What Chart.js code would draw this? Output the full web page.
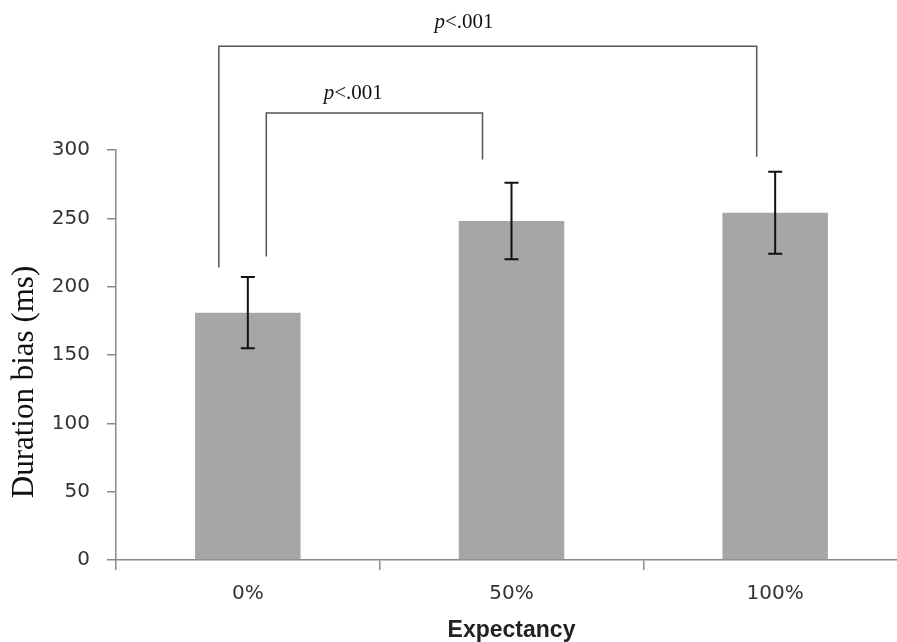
<!DOCTYPE html>
<html lang="en">
<head>
    <meta charset="UTF-8">
    <title>Duration bias by expectancy</title>
    <script src="https://cdn.jsdelivr.net/npm/chart.js"></script>
    <style>
        html, body {
            margin: 0;
            padding: 0;
            background: #fff;
            overflow: hidden;
        }
        #chart {
            display: block;
            background: #fff;
        }
    </style>
</head>
<body>
    <canvas id="chart" width="910" height="642"></canvas>

    <script>
        // data
        const categories = ['0%', '50%', '100%'];
        const meanBias = [181, 248, 254];
        const errBias = [26, 28, 30];
        const yTicks = [0, 50, 100, 150, 200, 250, 300];

        // significance brackets (x in category index units, y in ms)
        const bracketX1 = [-0.11, 0.07];
        const bracketX2 = [1.93, 0.89];
        const bracketTop = [376, 327];
        const bracketEnd1 = [214, 222];
        const bracketEnd2 = [295, 293];
        const pLabels = ['<.001', '<.001'];
        const pLabelX = [0.82, 0.40];
        const pLabelY = [389, 337];

        const errorBars = {
            id: 'errorBars',
            afterDatasetsDraw(chart) {
                const ctx = chart.ctx;
                const xs = chart.scales.x;
                const ys = chart.scales.y;
                ctx.save();
                ctx.strokeStyle = '#111';
                ctx.lineWidth = 2;
                meanBias.forEach((m, i) => {
                    const x = xs.getPixelForValue(i);
                    const yHi = ys.getPixelForValue(m + errBias[i]);
                    const yLo = ys.getPixelForValue(m - errBias[i]);
                    ctx.beginPath();
                    ctx.moveTo(x, yHi);
                    ctx.lineTo(x, yLo);
                    ctx.moveTo(x - 7, yHi);
                    ctx.lineTo(x + 7, yHi);
                    ctx.moveTo(x - 7, yLo);
                    ctx.lineTo(x + 7, yLo);
                    ctx.stroke();
                });
                ctx.restore();
            }
        };

        const brackets = {
            id: 'brackets',
            afterDraw(chart) {
                const ctx = chart.ctx;
                const xs = chart.scales.x;
                const ys = chart.scales.y;
                ctx.save();
                ctx.strokeStyle = '#555';
                ctx.lineWidth = 1.5;
                bracketX1.forEach((bx, i) => {
                    const x1 = xs.getPixelForValue(bx);
                    const x2 = xs.getPixelForValue(bracketX2[i]);
                    ctx.beginPath();
                    ctx.moveTo(x1, ys.getPixelForValue(bracketEnd1[i]));
                    ctx.lineTo(x1, ys.getPixelForValue(bracketTop[i]));
                    ctx.lineTo(x2, ys.getPixelForValue(bracketTop[i]));
                    ctx.lineTo(x2, ys.getPixelForValue(bracketEnd2[i]));
                    ctx.stroke();
                });

                // p-values, italic p followed by the rest
                ctx.fillStyle = '#111';
                ctx.textBaseline = 'alphabetic';
                ctx.textAlign = 'left';
                pLabels.forEach((txt, i) => {
                    ctx.font = 'italic 21px "Liberation Serif", "Times New Roman", serif';
                    const wp = ctx.measureText('p').width;
                    ctx.font = '21px "Liberation Serif", "Times New Roman", serif';
                    const wr = ctx.measureText(txt).width;
                    const cx = xs.getPixelForValue(pLabelX[i]);
                    const y = ys.getPixelForValue(pLabelY[i]);
                    const x0 = cx - (wp + wr) / 2;
                    ctx.font = 'italic 21px "Liberation Serif", "Times New Roman", serif';
                    ctx.fillText('p', x0, y);
                    ctx.font = '21px "Liberation Serif", "Times New Roman", serif';
                    ctx.fillText(txt, x0 + wp, y);
                });

                // y axis title
                ctx.save();
                ctx.translate(25, 382);
                ctx.rotate(-Math.PI / 2);
                ctx.textAlign = 'center';
                ctx.textBaseline = 'middle';
                ctx.font = '31px "Liberation Serif", "Times New Roman", serif';
                ctx.fillText('Duration bias (ms)', 0, 0);
                ctx.restore();

                ctx.restore();
            }
        };

        const ctxChart = document.getElementById('chart').getContext('2d');

        const biasChart = new Chart(ctxChart, {
            type: 'bar',
            data: {
                labels: categories,
                datasets: [
                    {
                        label: 'Duration bias',
                        data: meanBias,
                        backgroundColor: '#a6a6a6',
                        borderWidth: 0,
                        categoryPercentage: 1.0,
                        barPercentage: 0.4
                    }
                ]
            },
            options: {
                responsive: false,
                animation: false,
                layout: {
                    padding: { top: 150, right: 3, left: 0, bottom: 0 }
                },
                plugins: {
                    legend: { display: false },
                    tooltip: { enabled: false }
                },
                scales: {
                    x: {
                        border: { color: '#8a8a8a', width: 1.5 },
                        grid: {
                            drawOnChartArea: false,
                            tickLength: 10,
                            tickColor: '#8a8a8a',
                            lineWidth: 1.5,
                            offset: true
                        },
                        ticks: {
                            color: '#333',
                            padding: 12,
                            font: { family: '"DejaVu Sans", Verdana, sans-serif', size: 20 }
                        },
                        title: {
                            display: true,
                            text: 'Expectancy',
                            color: '#222',
                            padding: { top: 0, bottom: 0 },
                            font: { family: '"Liberation Sans", Arial, sans-serif', size: 23, weight: 'bold', lineHeight: 1 }
                        },
                        afterFit(scale) {
                            scale.height = 82;
                        }
                    },
                    y: {
                        min: 0,
                        max: 300,
                        border: { color: '#8a8a8a', width: 1.5 },
                        grid: {
                            drawOnChartArea: false,
                            tickLength: 9,
                            tickColor: '#8a8a8a',
                            lineWidth: 1.5
                        },
                        afterBuildTicks(scale) {
                            scale.ticks = yTicks.map(v => ({ value: v }));
                        },
                        ticks: {
                            color: '#333',
                            padding: 17,
                            font: { family: '"DejaVu Sans", Verdana, sans-serif', size: 20 }
                        },
                        afterFit(scale) {
                            scale.width = 116;
                        }
                    }
                }
            },
            plugins: [errorBars, brackets]
        });
    </script>
</body>
</html>
